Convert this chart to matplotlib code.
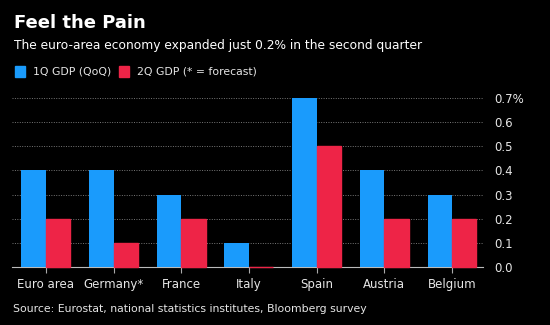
import numpy as np
import matplotlib.pyplot as plt

countries = ['Euro area', 'Germany*', 'France', 'Italy', 'Spain', 'Austria', 'Belgium']
gdp_1q = [0.4, 0.4, 0.3, 0.1, 0.7, 0.4, 0.3]
gdp_2q = [0.2, 0.1, 0.2, 0.0, 0.5, 0.2, 0.2]
yticks = [0.0, 0.1, 0.2, 0.3, 0.4, 0.5, 0.6, 0.7]
ylabels = ['0.0', '0.1', '0.2', '0.3', '0.4', '0.5', '0.6', '0.7%']

blue = '#1a9bfc'
red = '#ee2447'
txt = '#e6e6e6'

fig = plt.figure(figsize=(5.5, 3.25), dpi=100, facecolor='black')
ax = fig.add_axes([12 / 550, 1 - 267 / 325, 471 / 550, 169 / 325], facecolor='black')

x = np.arange(len(countries))
w = 0.36
ax.bar(x - w / 2, gdp_1q, w, color=blue, linewidth=0, zorder=2)
# thin edge so that a zero value still shows as a line
red_bars = ax.bar(x + w / 2, gdp_2q, w, color=red, edgecolor=red, linewidth=1.0, zorder=4)
for b in red_bars:
    b.set_clip_on(False)

ax.set_xlim(-0.5, 6.46)
ax.set_ylim(0, 0.7)
ax.set_xticks(x)
ax.set_xticklabels(countries)
ax.set_yticks(yticks)
ax.set_yticklabels(ylabels)
ax.yaxis.tick_right()
ax.tick_params(axis='y', length=0, pad=8, labelcolor=txt, labelsize=8.5)
ax.tick_params(axis='x', length=4, color='#aaaaaa', labelcolor=txt, labelsize=8.5, pad=4)
for lab in ax.get_yticklabels():
    lab.set_horizontalalignment('left')
ax.grid(axis='y', color='#777777', linestyle=(0, (1, 1.5)), linewidth=0.7, zorder=0)
for s in ['top', 'right', 'left']:
    ax.spines[s].set_visible(False)
ax.spines['bottom'].set_color('#bbbbbb')
ax.spines['bottom'].set_zorder(1.5)

fig.text(14 / 550, 1 - 23 / 325, 'Feel the Pain', color='white', fontsize=13,
         fontweight='bold', va='center')
fig.text(14 / 550, 1 - 46 / 325, 'The euro-area economy expanded just 0.2% in the second quarter',
         color='white', fontsize=8.8, va='center')
# legend
fig.patches.append(plt.Rectangle((15 / 550, 1 - 77 / 325), 10 / 550, 11 / 325,
                                 color=blue, transform=fig.transFigure, figure=fig))
fig.text(33 / 550, 1 - 71 / 325, '1Q GDP (QoQ)', color=txt, fontsize=7.8, va='center')
fig.patches.append(plt.Rectangle((119 / 550, 1 - 77 / 325), 10 / 550, 11 / 325,
                                 color=red, transform=fig.transFigure, figure=fig))
fig.text(137 / 550, 1 - 71 / 325, '2Q GDP (* = forecast)', color=txt, fontsize=7.8, va='center')
fig.text(13 / 550, 1 - 309 / 325, 'Source: Eurostat, national statistics institutes, Bloomberg survey',
         color=txt, fontsize=7.8, va='center')

fig.savefig('out.png', dpi=100, facecolor='black')
